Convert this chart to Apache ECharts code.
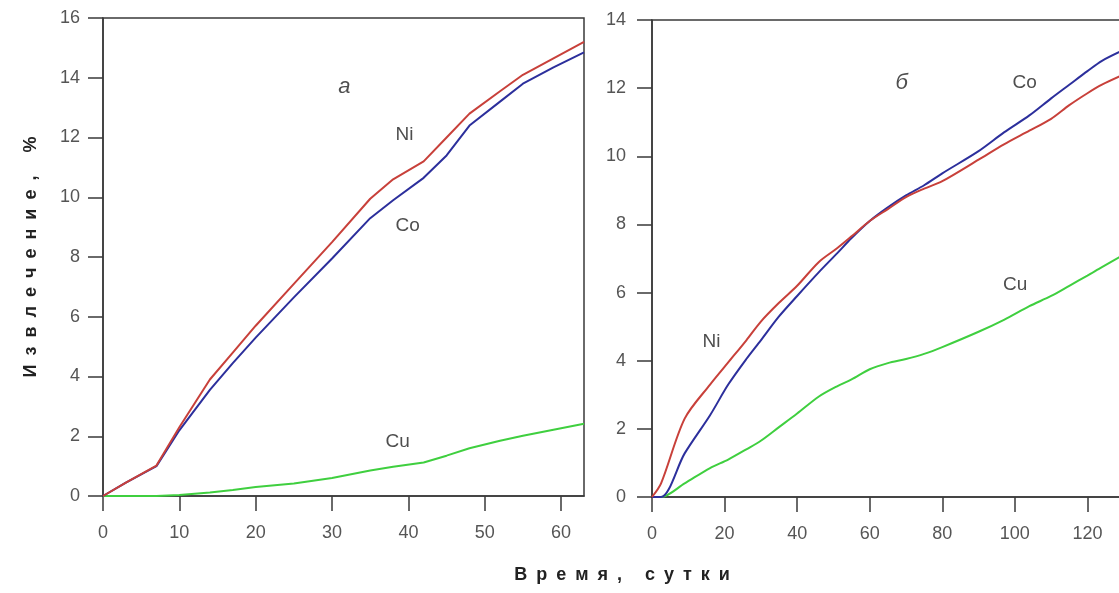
<!DOCTYPE html>
<html>
<head>
<meta charset="utf-8">
<script src="https://cdn.jsdelivr.net/npm/echarts@6/dist/echarts.min.js"></script>
<style>
html,body{margin:0;padding:0;background:#fff;}
#chart{width:1119px;height:593px;}
</style>
</head>
<body>
<div id="chart"></div>
<script>
// ---- Panel "а" (left) ----
const daysA = [0, 3, 7, 10, 14, 17, 20, 25, 30, 35, 38, 42, 45, 48, 52, 55, 59, 63];
const niA   = [0, 0.45, 1.02, 2.3, 3.9, 4.8, 5.7, 7.1, 8.5, 9.95, 10.6, 11.2, 12.0, 12.8, 13.55, 14.1, 14.65, 15.2];
const coA   = [0, 0.45, 1.0, 2.2, 3.55, 4.45, 5.3, 6.65, 7.95, 9.3, 9.9, 10.65, 11.4, 12.4, 13.2, 13.8, 14.35, 14.85];
const cuA   = [0, 0, 0, 0.03, 0.12, 0.2, 0.3, 0.42, 0.6, 0.85, 0.98, 1.12, 1.35, 1.6, 1.85, 2.02, 2.22, 2.42];

// ---- Panel "б" (right) ----
const daysB = [0, 2.5, 9, 16, 21, 26, 30, 35, 40, 46, 51, 55, 60, 65, 70, 75, 80, 90, 97, 104, 110, 115, 120, 124, 129];
const niB   = [0, 0.4, 2.3, 3.3, 3.95, 4.6, 5.15, 5.7, 6.2, 6.9, 7.3, 7.65, 8.1, 8.45, 8.8, 9.05, 9.27, 9.9, 10.35, 10.75, 11.1, 11.5, 11.85, 12.1, 12.35];
const coB   = [0, 0, 1.28, 2.4, 3.3, 4.05, 4.6, 5.3, 5.9, 6.6, 7.15, 7.6, 8.1, 8.5, 8.85, 9.15, 9.5, 10.15, 10.7, 11.2, 11.7, 12.1, 12.5, 12.8, 13.07];
const cuB   = [0, 0, 0.4, 0.85, 1.1, 1.4, 1.65, 2.05, 2.45, 2.95, 3.25, 3.45, 3.75, 3.93, 4.05, 4.2, 4.4, 4.85, 5.2, 5.6, 5.9, 6.2, 6.5, 6.75, 7.05];

// ---- Tick labels ----
const xTicksA = [0, 10, 20, 30, 40, 50, 60];
const yTicksA = [0, 2, 4, 6, 8, 10, 12, 14, 16];
const xTicksB = [0, 20, 40, 60, 80, 100, 120, 140];
const yTicksB = [0, 2, 4, 6, 8, 10, 12, 14];

// ---- Annotations [x, y, text, italic] ----
const notesA = [[31.6, 13.7, 'а', true], [39.5, 12.1, 'Ni', false], [39.9, 9.05, 'Co', false], [38.6, 1.8, 'Cu', false]];
const notesB = [[68.8, 12.15, 'б', true], [102.7, 12.15, 'Co', false], [100.1, 6.22, 'Cu', false], [16.4, 4.55, 'Ni', false]];

const xTitle = 'Время, сутки';
const yTitle = 'Извлечение, %';

const spaced = s => Array.from(s).join('\u2002');
const pairs = (xs, ys) => xs.map((x, i) => [x, ys[i]]);

const FONT = '"Liberation Sans", Arial, sans-serif';
const AX = '#3a3a3a';
const C_NI = '#c8403a', C_CO = '#2c2f9c', C_CU = '#3fcf3f';

function xAxisFor(gi, max, ticks) {
  return {
    type: 'value', gridIndex: gi, min: 0, max: max,
    axisLine: { show: true, onZero: false, lineStyle: { color: AX, width: 1.5 } },
    axisTick: { show: true, length: 15, customValues: ticks, lineStyle: { color: AX, width: 1.5 } },
    axisLabel: { customValues: ticks, margin: 28, fontFamily: FONT, fontSize: 18, color: '#555' },
    splitLine: { show: false }
  };
}
function yAxisFor(gi, max, ticks, margin) {
  return {
    type: 'value', gridIndex: gi, min: 0, max: max, interval: 2,
    axisLine: { show: true, onZero: false, lineStyle: { color: AX, width: 1.5 } },
    axisTick: { show: true, length: 15, customValues: ticks, lineStyle: { color: AX, width: 1.5 } },
    axisLabel: { customValues: ticks, margin: margin, fontFamily: FONT, fontSize: 18, color: '#555' },
    splitLine: { show: false }
  };
}
function line(gi, xs, ys, color, smooth) {
  return {
    type: 'line', xAxisIndex: gi, yAxisIndex: gi, data: pairs(xs, ys),
    showSymbol: false, symbol: 'none', smooth: smooth, silent: true,
    lineStyle: { color: color, width: 2 }, z: 3
  };
}
function notes(gi, arr) {
  return {
    type: 'scatter', xAxisIndex: gi, yAxisIndex: gi, silent: true,
    symbolSize: 1, itemStyle: { color: 'rgba(0,0,0,0)' },
    data: arr.map(n => ({ value: [n[0], n[1]], name: n[2],
      label: { fontStyle: n[3] ? 'italic' : 'normal', fontSize: n[3] ? 22 : 19 } })),
    label: { show: true, position: 'inside', formatter: p => p.name,
      fontFamily: FONT, color: '#222', fontSize: 19 },
    z: 5
  };
}

const chart = echarts.init(document.getElementById('chart'), null, { renderer: 'canvas' });
chart.setOption({
  animation: false,
  backgroundColor: '#fff',
  grid: [
    { left: 103, top: 18, width: 481, height: 478, show: true, borderColor: AX, borderWidth: 1.5,
      backgroundColor: 'transparent', containLabel: false, outerBoundsMode: 'none' },
    { left: 652, top: 20, width: 508, height: 477, show: true, borderColor: AX, borderWidth: 1.5,
      backgroundColor: 'transparent', containLabel: false, outerBoundsMode: 'none' }
  ],
  xAxis: [xAxisFor(0, 63, xTicksA), xAxisFor(1, 140, xTicksB)],
  yAxis: [yAxisFor(0, 16, yTicksA, 23), yAxisFor(1, 14, yTicksB, 26)],
  series: [
    line(0, daysA, cuA, C_CU, false),
    line(0, daysA, coA, C_CO, false),
    line(0, daysA, niA, C_NI, false),
    notes(0, notesA),
    line(1, daysB, cuB, C_CU, 0.3),
    line(1, daysB, coB, C_CO, 0.3),
    line(1, daysB, niB, C_NI, 0.3),
    notes(1, notesB)
  ],
  graphic: [
    { type: 'text', x: 622, y: 575, silent: true,
      style: { text: spaced(xTitle), textAlign: 'center', textVerticalAlign: 'middle',
        font: 'bold 18px ' + FONT, fill: '#222' } },
    { type: 'text', x: 31, y: 257, rotation: Math.PI / 2, silent: true,
      style: { text: spaced(yTitle), textAlign: 'center', textVerticalAlign: 'middle',
        font: 'bold 18px ' + FONT, fill: '#222' } }
  ]
});
</script>
</body>
</html>
